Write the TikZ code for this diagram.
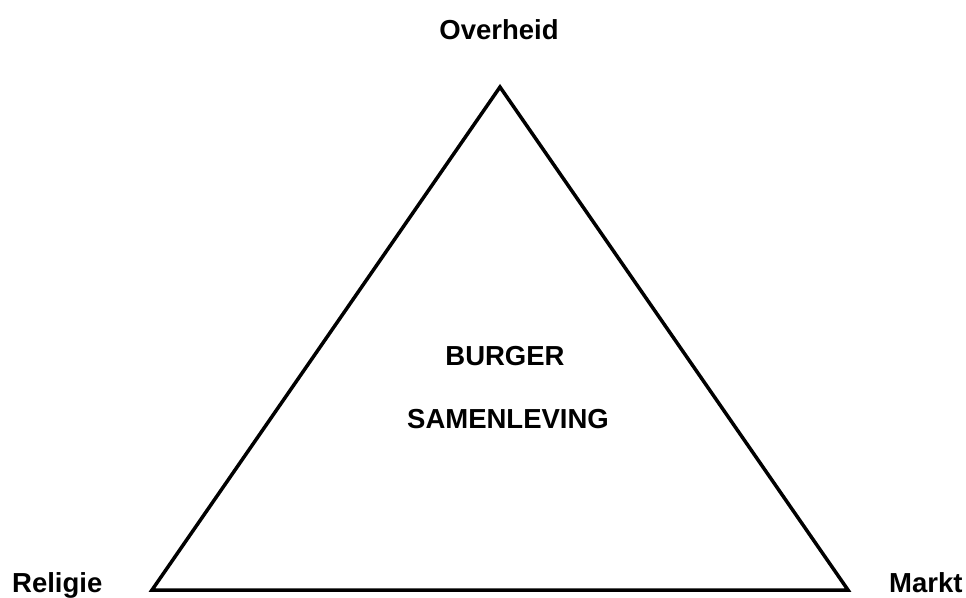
\documentclass[tikz,border=0pt]{standalone}
\usepackage{fontspec}
\setmainfont{Liberation Sans}
\usepackage{tikz}
\usetikzlibrary{positioning,calc}

\begin{document}
\begin{tikzpicture}[x=1pt,y=-1pt,
    lbl/.style={font=\fontsize{27.5}{32}\selectfont\bfseries, inner sep=0pt}]
    \useasboundingbox (0,0) rectangle (966,597);

    % Triangle corners
    \coordinate (top) at (500,87);
    \coordinate (left) at (152,590);
    \coordinate (right) at (848,590);
    \draw[line width=3.5pt, line join=miter] (top) -- (left) -- (right) -- cycle;

    % Corner labels
    \node[lbl, anchor=base] (overheid) at (499,39) {Overheid};
    \node[lbl, anchor=base west] (religie) at (12,592) {Religie};
    \node[lbl, anchor=base west] (markt) at (889,592) {Markt};

    % Centre
    \node[lbl, anchor=base] (burger) at (505,365) {BURGER};
    \node[lbl, anchor=base] (samenleving) at (508,428) {SAMENLEVING};
\end{tikzpicture}
\end{document}
